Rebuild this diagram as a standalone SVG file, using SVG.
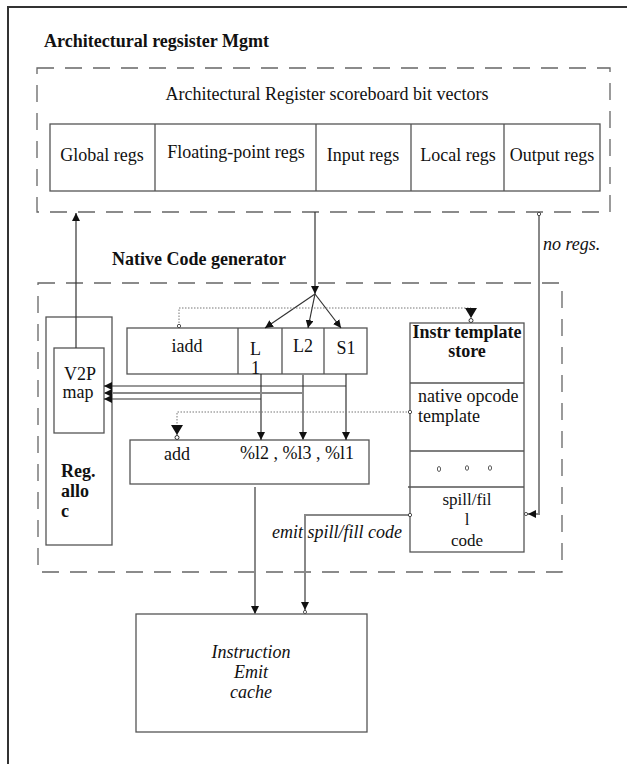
<svg xmlns="http://www.w3.org/2000/svg" width="627" height="764" viewBox="0 0 627 764">
<style>
text{font-family:"Liberation Serif","Times New Roman",serif;fill:#111;}
.t{font-size:18px;}
.s{font-size:17px;}
.b{font-size:18px;font-weight:bold;}
.i{font-size:18px;font-style:italic;}
.box{fill:none;stroke:#555;stroke-width:1.3;}
.dash{fill:none;stroke:#666;stroke-width:1.3;stroke-dasharray:17,11;}
.ln{fill:none;stroke:#333;stroke-width:1.2;}
.gl{fill:none;stroke:#888;stroke-width:2;}
.dot{fill:none;stroke:#777;stroke-width:1;stroke-dasharray:1.5,1.5;}
</style>
<defs>
<marker id="ah" viewBox="0 0 10 10" refX="10" refY="5" markerWidth="8" markerHeight="8" markerUnits="userSpaceOnUse" orient="auto"><path d="M0,0 L10,5 L0,10z" fill="#111"/></marker>
<marker id="ahc" viewBox="0 0 16 10" refX="15" refY="5" markerWidth="13" markerHeight="8" markerUnits="userSpaceOnUse" orient="auto"><path d="M0,0 L10,5 L0,10z" fill="#111"/><circle cx="12.5" cy="5" r="2" fill="#fff" stroke="#333" stroke-width="1"/></marker>
<marker id="big" viewBox="0 0 16 12" refX="15" refY="6" markerWidth="16" markerHeight="12" markerUnits="userSpaceOnUse" orient="auto"><path d="M0,0 L10,6 L0,12z" fill="#111"/><circle cx="12.5" cy="6" r="2" fill="#fff" stroke="#333" stroke-width="1"/></marker>
<marker id="oc" viewBox="0 0 6 6" refX="3" refY="3" markerWidth="5" markerHeight="5" markerUnits="userSpaceOnUse" orient="auto"><circle cx="3" cy="3" r="2" fill="#fff" stroke="#333" stroke-width="1"/></marker>
</defs>
<rect width="627" height="764" fill="#fff"/>
<g id="frame">
<path d="M8,764 V7 H627" fill="none" stroke="#333" stroke-width="2"/>
</g>
<g id="arch-mgmt">
<text class="b" x="44" y="47">Architectural regsister Mgmt</text>
<rect class="dash" x="37" y="68" width="573" height="144"/>
<text class="t" x="327" y="100" text-anchor="middle">Architectural Register scoreboard bit vectors</text>
</g>
<g id="reg-vectors">
<rect class="box" x="50" y="124" width="550" height="67"/>
<path class="box" d="M155,124V191M316,124V191M411,124V191M504,124V191"/>
<text class="t" x="102" y="161" text-anchor="middle">Global regs</text>
<text class="t" x="236" y="158" text-anchor="middle">Floating-point regs</text>
<text class="t" x="363" y="161" text-anchor="middle">Input regs</text>
<text class="t" x="458" y="161" text-anchor="middle">Local regs</text>
<text class="t" x="552" y="161" text-anchor="middle">Output regs</text>
</g>
<g id="native-gen">
<text class="b" x="112" y="265">Native Code generator</text>
<rect class="dash" x="38" y="283" width="524" height="289"/>
</g>
<g id="reg-alloc">
<rect class="box" x="46" y="317" width="66" height="228"/>
<text class="b" x="61" y="477">Reg.</text>
<text class="b" x="61" y="497">allo</text>
<text class="b" x="61" y="517">c</text>
</g>
<g id="v2p">
<rect class="box" x="54" y="348" width="50" height="85"/>
<text class="t" x="80" y="380" text-anchor="middle">V2P</text>
<text class="t" x="78" y="398" text-anchor="middle">map</text>
</g>
<g id="iadd">
<rect class="box" x="127" y="328" width="240" height="46"/>
<path class="box" d="M238,328V374M282,328V374M324,328V374"/>
<text class="t" x="187" y="352" text-anchor="middle">iadd</text>
<text class="t" x="250" y="355">L</text>
<text class="t" x="251" y="374">1</text>
<text class="t" x="303" y="352" text-anchor="middle">L2</text>
<text class="t" x="346" y="354" text-anchor="middle">S1</text>
</g>
<g id="add">
<rect class="box" x="130" y="440" width="239" height="44"/>
<text class="t" x="177" y="460" text-anchor="middle">add</text>
<text class="t" x="240" y="459">%l2 , %l3 , %l1</text>
</g>
<g id="template-store">
<rect class="box" x="410" y="323" width="114" height="229"/>
<path class="box" d="M410,383H524M410,451H524M408,487H524"/>
<text class="b" x="467" y="338" text-anchor="middle">Instr template</text>
<text class="b" x="467" y="357" text-anchor="middle">store</text>
<text class="t" x="418" y="402">native opcode</text>
<text class="t" x="418" y="422">template</text>
<ellipse cx="439" cy="469" rx="1.6" ry="2.5" fill="none" stroke="#333" stroke-width="0.8"/>
<ellipse cx="467" cy="468" rx="1.6" ry="2.3" fill="none" stroke="#333" stroke-width="0.8"/>
<ellipse cx="490" cy="468" rx="1.6" ry="2.3" fill="none" stroke="#333" stroke-width="0.8"/>
<text class="s" x="467" y="505" text-anchor="middle">spill/fil</text>
<text class="s" x="467" y="525" text-anchor="middle">l</text>
<text class="s" x="467" y="546" text-anchor="middle">code</text>
</g>
<g id="emit-cache">
<rect class="box" x="136" y="614" width="231" height="118"/>
<text class="i" x="251" y="658" text-anchor="middle">Instruction</text>
<text class="i" x="251" y="678" text-anchor="middle">Emit</text>
<text class="i" x="251" y="698" text-anchor="middle">cache</text>
</g>
<g id="connectors">
<path class="ln" d="M76,348V213" marker-end="url(#ah)"/>
<path class="ln" d="M315,212V294" marker-end="url(#ah)"/>
<path class="ln" d="M315,294L265,328" marker-end="url(#ah)" stroke-width="0.9"/>
<path class="ln" d="M315,294L308,328" marker-end="url(#ah)" stroke-width="0.9"/>
<path class="ln" d="M315,294L341,328" marker-end="url(#ah)" stroke-width="0.9"/>
<path class="dot" d="M179,326V308H471V323" marker-start="url(#oc)" marker-end="url(#big)"/>
<path class="ln" d="M261,374V440" marker-end="url(#ah)"/>
<path class="gl" d="M303,374V440" marker-end="url(#ah)"/>
<path class="ln" d="M346,374V440" marker-end="url(#ah)"/>
<path class="ln" d="M346,386H104" marker-end="url(#ah)"/>
<path class="gl" d="M303,393H104" marker-end="url(#ah)"/>
<path class="ln" d="M261,399H104" marker-end="url(#ah)"/>
<path class="dot" d="M410,412H177V440" marker-start="url(#oc)" marker-end="url(#big)"/>
<path class="gl" d="M255,487V614" marker-end="url(#ah)"/>
<path class="gl" d="M410,515H305V614" marker-start="url(#oc)" marker-end="url(#ahc)"/>
<path class="gl" d="M539,214V514H524" marker-start="url(#oc)" marker-end="url(#ahc)"/>
<text class="i" x="272" y="538">emit spill/fill code</text>
<text class="i" x="543" y="250">no regs.</text>
</g>
</svg>
